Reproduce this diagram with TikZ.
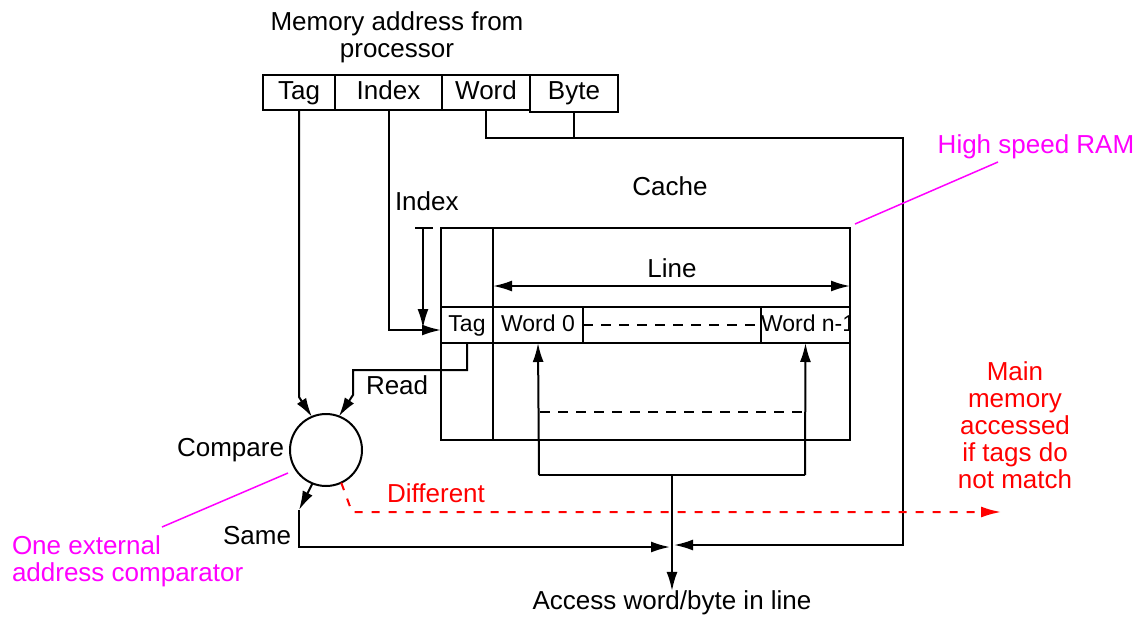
\documentclass[tikz,border=0pt]{standalone}
\usepackage{fontspec}
\setmainfont{Liberation Sans}
\usetikzlibrary{arrows.meta,calc}
\definecolor{notemag}{RGB}{255,0,255}
\definecolor{missred}{RGB}{255,0,0}
\begin{document}
\begin{tikzpicture}[x=0.5pt,y=-0.5pt,
  every node/.style={inner sep=0pt,outer sep=0pt},
  lbl/.style={font=\fontsize{13}{13.5}\selectfont},
  cell/.style={draw,line width=1pt,font=\fontsize{11.5}{13}\selectfont,text height=8.3pt,text depth=2.3pt},
  fieldbox/.style={draw,line width=1pt,minimum height=17.5pt,font=\fontsize{13}{13.5}\selectfont,text height=9.4pt,text depth=2.6pt},
  wire/.style={line width=1pt},
  tip/.style={-{Latex[length=9.5pt,width=5.5pt]}},
  arr/.style={wire,tip},
  dbl/.style={wire,{Latex[length=9.5pt,width=5.5pt]}-{Latex[length=9.5pt,width=5.5pt]}},
  dashln/.style={wire,dash pattern=on 5pt off 4pt},
  missln/.style={line width=1pt,missred,dash pattern=on 4pt off 4.5pt,-{Latex[length=10pt,width=5.5pt]}},
  leader/.style={line width=0.75pt,notemag},
  note/.style={font=\fontsize{13}{13.5}\selectfont,notemag,align=left},
  missnote/.style={font=\fontsize{13}{13.5}\selectfont,missred,align=center}
]
\useasboundingbox (0,0) rectangle (1140,616);

% address fields
\node[lbl,align=center] (title) at (397,37) {Memory address from\\processor};
\node[fieldbox,minimum width=36pt] (tagA) at (299,92.5) {Tag};
\node[fieldbox,minimum width=53.5pt] (indexA) at (388.5,92.5) {Index};
\node[fieldbox,minimum width=44pt] (wordA) at (486,92.5) {Word};
\node[fieldbox,minimum width=44pt,minimum height=18.5pt,text depth=3.1pt] (byteA) at (574,93.5) {Byte};

% cache store
\node[lbl] (cacheT) at (670,186) {Cache};
\node[draw,line width=1pt,minimum width=204.5pt,minimum height=106pt] (cache) at (645.5,334) {};
\node[cell,minimum width=26pt,minimum height=18pt] (tagC) at (467,325) {Tag};
\node[cell,minimum width=45pt,minimum height=18pt] (word0) at (538,325) {Word 0};
\node[cell,minimum width=89pt,minimum height=18pt] (mid) at (672,325) {};
\node[cell,minimum width=44.5pt,minimum height=18pt] (wordn) at (805.5,325) {};
\begin{scope}
  \clip (wordn.south west) rectangle (wordn.north east);
  \node[cell,draw=none,anchor=west] (wordnT) at (761,325) {Word n-1};
\end{scope}
\draw[wire] (tagC.east |- cache.north) -- (tagC.east |- cache.south);
\draw[dashln] (mid.west) -- (mid.east);

% line width marker
\coordinate (lineL) at (493,286);
\coordinate (lineR) at (850,286);
\draw[dbl] (lineL) -- (lineR);
\node[lbl] (lineT) at (672,268) {Line};

% index selection
\node[lbl,anchor=west] (indexT) at (395,201) {Index};
\coordinate (ibL) at (415,228);
\coordinate (ibR) at (433,228);
\coordinate (ibTop) at (423,228);
\coordinate (ibTip) at (423,328);
\draw[wire] (ibL) -- (ibR);
\draw[arr] (ibTop) -- (ibTip);
\draw[arr] (indexA.south) |- ([yshift=-2.5pt]tagC.west);

% comparator
\node[draw,circle,line width=1pt,minimum size=36pt] (cmp) at (326,450) {};
\node[lbl,anchor=east] (cmpT) at (284,450) {Compare};
\coordinate (tagBend) at (299,397);
\draw[arr] (tagA.south) -- (tagBend) -- (cmp.113);
\coordinate (rd1) at (353,370);
\coordinate (rd2) at (353,395);
\draw[arr] (tagC.south) |- (rd1) -- (rd2) -- (cmp.69);
\node[lbl,anchor=west] (readT) at (366,385) {Read};

% word selection
\coordinate (selL) at (539,475);
\coordinate (selR) at (805,475);
\coordinate (selM) at (672,475);
\draw[arr] (selL) -- (word0.south);
\draw[arr] (selR) -- (wordn.south);
\draw[wire] (selL) -- (selR);
\draw[dashln] (540,412) -- (806,412);
\node[lbl] (accessT) at (672,603) {Access word/byte in line};
\draw[arr] (selM) -- (accessT.north);

% word/byte offset route
\coordinate (wb1) at (486,138);
\coordinate (wb2) at (903,138);
\coordinate (wb3) at (903,545);
\coordinate (mergeR) at (674,545);
\draw[wire] (byteA.south) -- (byteA.south |- wb1);
\draw[arr] (wordA.south) -- (wb1) -- (wb2) -- (wb3) -- (mergeR);

% hit path
\coordinate (sameTip) at (299,510);
\coordinate (sameC) at (299,547);
\coordinate (mergeL) at (670,547);
\draw[arr] (cmp.248) -- (sameTip);
\draw[arr] (sameTip) -- (sameC) -- (mergeL);
\node[lbl,anchor=east] (sameT) at (291,536) {Same};

% miss path
\coordinate (dif1) at (352,512);
\coordinate (difEnd) at (1001,512);
\draw[missln] (cmp.295) -- (dif1) -- (difEnd);
\node[lbl,missred] (difT) at (436,493) {Different};
\node[missnote] (mainT) at (1015,425) {Main\\memory\\accessed\\if tags do\\not match};

% annotations
\node[note] (ramT) at (1036,147) {High speed RAM};
\coordinate (ramTip) at (855,224);
\draw[leader] (ramTip) -- (998,162);
\node[note,anchor=west] (oneT) at (12,561) {One external\\address comparator};
\draw[leader] (288,473) -- (162,527);
\end{tikzpicture}
\end{document}
